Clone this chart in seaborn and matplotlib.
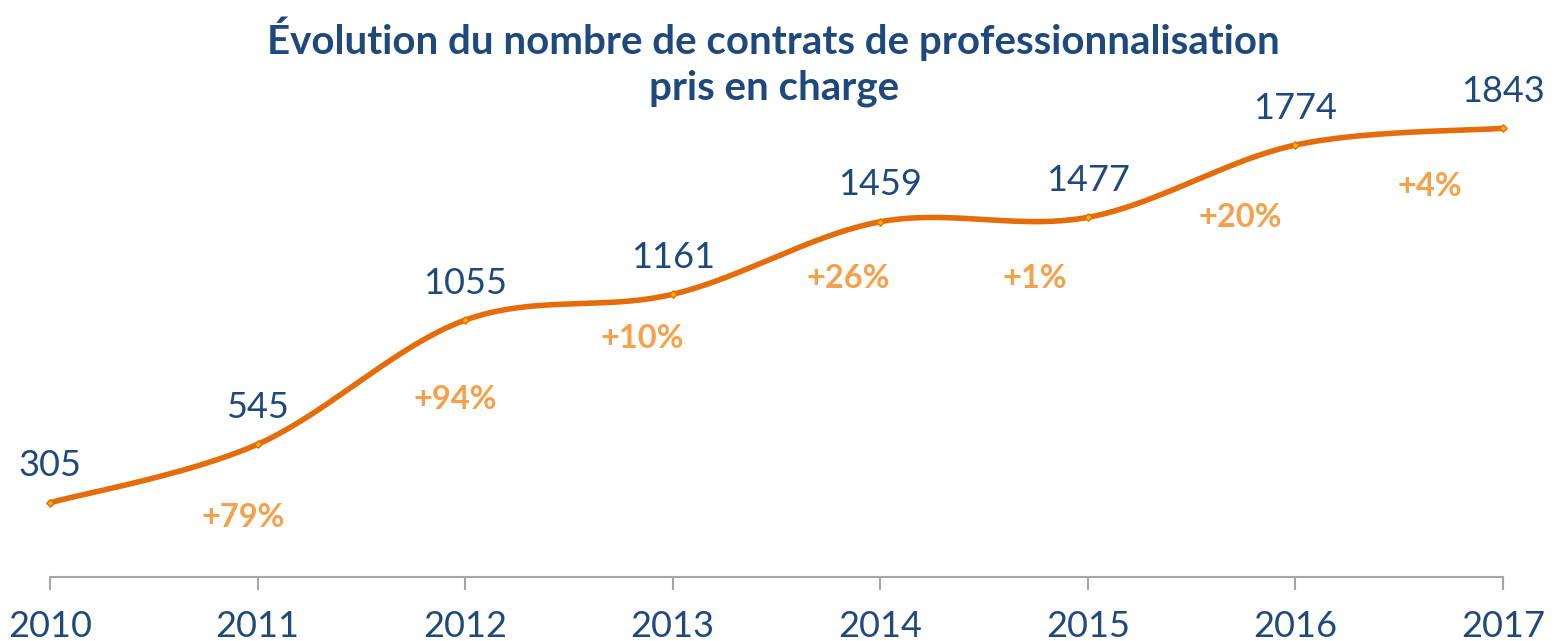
import numpy as np
import pandas as pd
import matplotlib
matplotlib.use("Agg")
import matplotlib.pyplot as plt
import seaborn as sns

# data
years = [2010, 2011, 2012, 2013, 2014, 2015, 2016, 2017]
contracts = [305, 545, 1055, 1161, 1459, 1477, 1774, 1843]
growth_labels = ["+79%", "+94%", "+10%", "+26%", "+1%", "+20%", "+4%"]

# layout: pixel offsets of the growth labels from their point
growth_offsets = [(-14, -73), (-10, -79), (-30, -44), (-32, -57),
                  (-53, -61), (-55, -72), (-73, -58)]

line_col = "#E46C0A"
blue = "#1F497D"
pct_col = "#F5A04A"
grey = "#A6A6A6"

sns.set_theme(style="white")
plt.rcParams["font.family"] = ["Lato", "DejaVu Sans"]


def smooth(x, y, n=40):
    # excel-like smoothed line: catmull-rom as cubic bezier segments
    x = np.asarray(x, float)
    y = np.asarray(y, float)
    px = np.concatenate([[x[0]], x, [x[-1]]])
    py = np.concatenate([[y[0]], y, [y[-1]]])
    xs, ys = [], []
    t = np.linspace(0, 1, n)
    for i in range(1, len(px) - 2):
        p0 = np.array([px[i], py[i]])
        p3 = np.array([px[i + 1], py[i + 1]])
        p1 = p0 + (np.array([px[i + 1], py[i + 1]]) - np.array([px[i - 1], py[i - 1]])) / 6
        p2 = p3 - (np.array([px[i + 2], py[i + 2]]) - np.array([px[i], py[i]])) / 6
        pts = ((1 - t) ** 3)[:, None] * p0 + (3 * t * (1 - t) ** 2)[:, None] * p1 \
            + (3 * t ** 2 * (1 - t))[:, None] * p2 + (t ** 3)[:, None] * p3
        xs.extend(pts[:, 0])
        ys.extend(pts[:, 1])
    return xs, ys


sx, sy = smooth(years, contracts)
curve = pd.DataFrame({"year": sx, "n": sy})
df = pd.DataFrame({"year": years, "n": contracts})

fig = plt.figure(figsize=(15.6, 6.41), dpi=100)
ax = fig.add_axes([50 / 1560, 64 / 641, (1503 - 50) / 1560, (577 - 90) / 641])

sns.lineplot(data=curve, x="year", y="n", ax=ax, color=line_col, lw=4,
             sort=False, clip_on=False)
sns.scatterplot(data=df, x="year", y="n", ax=ax, marker="D", s=14,
                color="#F7B500", edgecolor=line_col, linewidth=1, zorder=3,
                clip_on=False)

ax.set_xlim(2010, 2017)
ax.set_ylim(0, 2000)

for x, y in zip(years, contracts):
    ax.annotate(str(y), (x, y), xytext=(0, 37 * 0.72), textcoords="offset points",
                ha="center", va="center", fontsize=26, color=blue)

for i, lab in enumerate(growth_labels):
    dx, dy = growth_offsets[i]
    ax.annotate(lab, (years[i + 1], contracts[i + 1]),
                xytext=(dx * 0.72, dy * 0.72), textcoords="offset points",
                ha="center", va="center", fontsize=23.5, fontweight="bold",
                color=pct_col)

for s in ["top", "left", "right"]:
    ax.spines[s].set_visible(False)
ax.spines["bottom"].set_color(grey)
ax.spines["bottom"].set_linewidth(1.5)
ax.set_xticks(years)
ax.set_xticklabels([str(y) for y in years])
ax.set_yticks([])
ax.tick_params(axis="x", direction="out", length=9.5, width=1.5, color=grey,
               labelcolor=blue, labelsize=26, pad=14, bottom=True)
ax.set_xlabel("")
ax.set_ylabel("")

fig.text(0.496, 1 - 39 / 641, "Évolution du nombre de contrats de professionnalisation",
         ha="center", va="center", fontsize=29, fontweight="bold", color=blue)
fig.text(0.496, 1 - 88 / 641, "pris en charge",
         ha="center", va="center", fontsize=29, fontweight="bold", color=blue)

fig.savefig("out.png", dpi=100)
